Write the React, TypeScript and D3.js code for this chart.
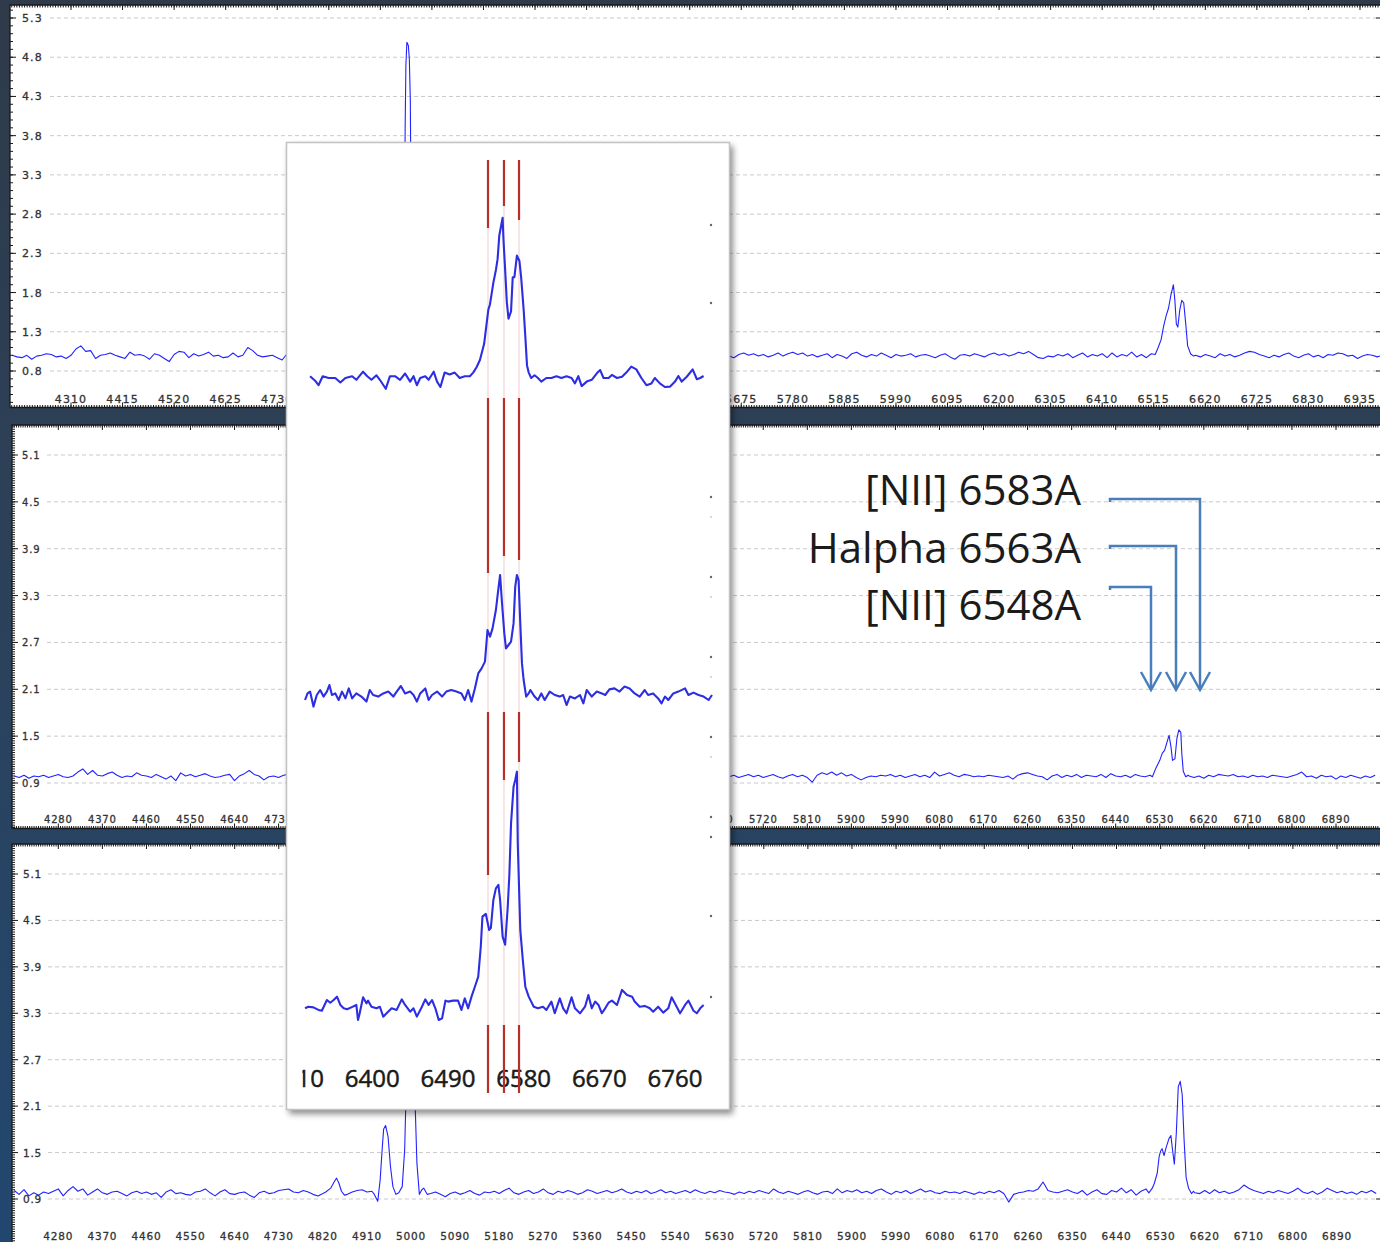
import React from "react";
import * as d3 from "d3";

type Pt = [number, number];

const W = 1380;
const H = 1242;
const STEP = 10; // continuum sampling, Angstrom

// ================= Panel 1 (top) =================
const p1XTicks = [4310, 4415, 4520, 4625, 4730, 4835, 4940, 5045, 5150, 5255, 5360, 5465, 5570, 5675, 5780, 5885, 5990, 6095, 6200, 6305, 6410, 6515, 6620, 6725, 6830, 6935];
const p1YTicks = [0.8, 1.3, 1.8, 2.3, 2.8, 3.3, 3.8, 4.3, 4.8, 5.3];
const p1LeftStart = 4190;
const p1Left = [100,98,97,100,95,99,100,102,101,98,99,96,100,108,112,105,106,96,100,101,103,100,98,96,104,100,101,99,95,102,100,96,92,101,105,104,97,102,99,101,104,99,100,97,98,103,98,100,110,106,100,98,99,100,97,94,102];
const p1RightStart = 5650;
const p1Right = [
  99,97,101,103,100,102,99,101,98,100,
  103,99,102,104,101,103,99,101,98,100,
  102,97,101,99,96,102,104,100,98,101,
  99,103,100,97,101,99,100,102,98,100,
  101,99,97,100,102,98,95,100,101,99,
  102,100,98,101,103,100,102,99,101,104,
  102,105,101,97,96,99,98,101,99,102,
  97,100,103,98,101,99,102,97,103,98,
  101,99,104,98,101,97,102,101,100,100,
  100,100,100,100,100,100,98,101,99,97,
  102,99,101,98,100,103,105,104,101,99,
  97,100,98,101,103,99,97,100,102,98,
  100,97,101,100,103,102,99,100,96,99,
  101,100,98,100];
const p1OIII: Pt[] = [[4986,1.0],[4989,2.5],[4990.5,3.9],[4992,4.7],[4994,4.99],[4997,4.95],[4999,4.78],[5001,4.25],[5003,2.5],[5006,1.02]];
const p1Halpha: Pt[] = [[6518,1.01],[6524,1.10],[6530,1.2],[6535,1.37],[6540,1.5],[6545,1.6],[6550,1.77],[6555,1.9],[6558,1.7],[6561,1.40],[6564,1.36],[6568,1.58],[6572,1.70],[6576,1.67],[6580,1.41],[6584,1.12],[6590,1.02],[6596,0.99]];

// ================= Panels 2 & 3 axes =================
const p23XTicks = [4280,4370,4460,4550,4640,4730,4820,4910,5000,5090,5180,5270,5360,5450,5540,5630,5720,5810,5900,5990,6080,6170,6260,6350,6440,6530,6620,6710,6800,6890];
const p23YTicks = [0.9, 1.5, 2.1, 2.7, 3.3, 3.9, 4.5, 5.1];

// ================= Panel 2 =================
const p2LeftStart = 4190;
const p2Left = [
  99,97,100,96,99,98,100,97,99,101,
  98,97,99,104,108,101,106,100,99,102,
  104,100,97,99,98,103,100,99,97,101,
  98,95,99,93,103,99,101,98,100,102,
  99,97,98,100,101,93,99,102,106,101,
  99,94,98,99,97,100,101];
const p2RightStart = 5650;
const p2Right = [
  98,100,97,99,101,98,100,97,99,101,
  98,96,99,101,98,100,97,91,100,103,
  101,104,100,103,99,101,97,94,97,99,
  98,100,99,101,98,100,97,99,101,98,
  100,97,104,99,101,103,100,98,101,100,
  98,99,98,100,99,98,97,99,95,100,
  102,103,101,99,98,94,99,101,97,100,
  98,101,97,100,99,98,101,97,102,99,
  98,100,97,101,99,98,100,100,100,100,
  100,100,100,100,99,97,99,96,100,98,
  101,100,99,101,98,99,97,100,98,99,
  97,100,99,98,97,99,101,104,98,99,
  96,100,98,99,95,99,97,100,98,96,
  99,97,100];
const p2Halpha: Pt[] = [[6515,0.98],[6522,1.09],[6530,1.19],[6535,1.28],[6540,1.32],[6546,1.45],[6549,1.51],[6553,1.36],[6556,1.19],[6561,1.21],[6565,1.47],[6569,1.58],[6573,1.55],[6575,1.28],[6578,1.05],[6583,0.98],[6588,1.0]];

// ================= Panel 3 =================
const p3Start = 4190;
const p3Cont = [
  101,96,102,94,98,95,99,97,100,103,
  94,101,106,100,103,95,99,103,98,96,
  99,100,97,94,98,100,97,99,96,98,
  92,99,102,97,98,96,95,99,100,103,
  98,94,99,102,97,96,98,99,95,92,
  98,100,97,98,101,102,103,99,98,101,
  99,96,94,97,101,104,108,100,96,99,
  101,102,99,100,98,90,100,100,100,100,
  100,100,100,100,100,97,99,96,93,97,
  99,96,98,101,97,95,99,98,100,97,
  101,104,98,96,99,101,97,99,103,98,
  96,100,98,101,99,96,98,102,100,97,
  99,101,98,100,103,99,97,100,98,101,
  97,99,102,98,100,97,99,101,98,102,
  99,97,100,98,101,99,98,96,99,97,
  100,98,101,99,97,103,99,97,100,98,
  96,99,101,98,96,99,100,97,103,98,
  101,99,102,98,100,97,101,103,99,96,
  100,98,101,97,100,103,99,101,98,97,
  100,98,99,97,100,98,96,99,97,100,
  98,101,97,86,96,98,99,101,100,103,
  112,101,99,98,100,102,99,97,101,95,
  99,102,97,96,101,99,104,98,102,95,
  100,103,100,100,100,100,100,100,100,100,
  100,98,97,101,97,102,98,100,97,99,
  102,108,104,101,99,97,100,98,101,99,
  97,100,104,99,97,100,96,99,104,101,
  98,100,97,99,96,100,98,101,97];
const p3Hbeta: Pt[] = [[4826,0.99],[4836,1.04],[4843,1.12],[4848,1.17],[4853,1.10],[4858,1.0],[4864,0.95]];
const p3OIII: Pt[] = [[4924,0.97],[4932,0.87],[4937,1.15],[4941,1.54],[4944,1.80],[4948,1.85],[4953,1.71],[4958,1.32],[4963,1.06],[4969,0.96],[4975,0.98],[4982,1.06],[4987,1.54],[4990,2.3],[4994,3.6],[4998,4.1],[5003,3.5],[5008,2.2],[5012,1.36],[5017,0.96],[5022,1.02],[5026,1.04],[5033,0.96]];
const p3Halpha: Pt[] = [[6506,0.98],[6513,1.04],[6517,1.10],[6523,1.23],[6527,1.45],[6530,1.52],[6533,1.55],[6537,1.46],[6541,1.56],[6547,1.68],[6551,1.72],[6554,1.55],[6558,1.35],[6562,1.75],[6566,2.35],[6570,2.42],[6574,2.25],[6578,1.65],[6582,1.18],[6587,1.04],[6593,0.97],[6597,1.0]];

// ================= Inset (zoom on H-alpha / [NII]) =================
const insetXTicks = [6310, 6400, 6490, 6580, 6670, 6760];
const insetMarkers = [6537.6, 6556.6, 6574.5];
const insetA: Pt[] = [[6326,1.01],[6332,0.985],[6336,0.96],[6341,1.01],[6348,1.0],[6356,1.0],[6362,0.975],[6368,1.0],[6376,1.01],[6381,0.99],[6389,1.035],[6394,1.01],[6399,0.99],[6405,1.015],[6409,0.99],[6416,0.94],[6421,1.01],[6427,1.01],[6433,0.99],[6439,1.025],[6445,0.98],[6449,1.01],[6453,0.96],[6457,1.0],[6463,1.01],[6467,0.99],[6473,1.035],[6477,0.98],[6481,0.95],[6486,1.03],[6492,1.02],[6498,1.03],[6504,1.0],[6510,1.01],[6516,1.01],[6520,1.03],[6524,1.06],[6528,1.10],[6533,1.19],[6538,1.38],[6540,1.41],[6544,1.53],[6547,1.60],[6549,1.66],[6551,1.79],[6555,1.89],[6556,1.77],[6558,1.60],[6560,1.42],[6562,1.33],[6565,1.37],[6567,1.56],[6569,1.56],[6572,1.68],[6575,1.65],[6577,1.56],[6580,1.38],[6582,1.23],[6584,1.07],[6586,1.03],[6589,1.0],[6593,1.015],[6597,1.0],[6601,0.98],[6607,1.0],[6613,1.0],[6619,1.01],[6625,1.0],[6631,1.01],[6637,1.0],[6641,0.97],[6645,1.01],[6649,0.955],[6655,0.98],[6661,0.99],[6667,1.026],[6671,1.044],[6675,1.0],[6681,1.0],[6685,1.017],[6691,1.0],[6697,1.007],[6703,1.035],[6708,1.063],[6714,1.048],[6720,1.0],[6726,0.96],[6732,0.97],[6736,1.0],[6742,0.97],[6748,0.95],[6754,0.952],[6760,0.98],[6764,1.011],[6768,0.98],[6774,1.007],[6781,1.048],[6786,0.993],[6790,1.0],[6794,1.011]];
const insetB: Pt[] = [[6320,0.985],[6323,1.018],[6326,1.027],[6330,0.952],[6334,1.01],[6338,1.035],[6342,1.002],[6346,1.027],[6349,1.06],[6352,1.01],[6356,1.018],[6360,0.985],[6364,1.027],[6368,0.993],[6372,1.043],[6376,0.993],[6381,1.018],[6387,1.002],[6393,0.977],[6397,1.035],[6401,1.01],[6407,1.002],[6413,1.018],[6419,1.027],[6425,1.002],[6429,1.027],[6434,1.055],[6439,1.018],[6445,1.027],[6449,1.01],[6453,0.977],[6457,1.018],[6463,1.043],[6467,0.985],[6471,1.01],[6477,1.027],[6483,1.002],[6488,1.027],[6494,1.035],[6500,1.027],[6506,1.018],[6510,0.985],[6514,1.035],[6518,0.977],[6522,1.043],[6526,1.118],[6530,1.143],[6534,1.177],[6537,1.335],[6540,1.302],[6543,1.343],[6547,1.435],[6550,1.543],[6552,1.61],[6554,1.485],[6557,1.318],[6559,1.243],[6562,1.26],[6565,1.277],[6568,1.368],[6570,1.552],[6572,1.61],[6574,1.585],[6576,1.368],[6578,1.168],[6580,1.085],[6583,1.002],[6586,1.018],[6588,1.035],[6593,1.002],[6597,0.985],[6601,1.018],[6605,0.985],[6611,1.027],[6617,1.01],[6623,1.002],[6627,1.01],[6631,0.96],[6635,1.002],[6641,0.993],[6647,1.01],[6651,0.968],[6655,1.035],[6661,1.002],[6667,1.027],[6673,1.018],[6677,1.01],[6682,1.038],[6688,1.043],[6694,1.027],[6700,1.052],[6706,1.043],[6712,1.018],[6718,1.002],[6724,1.035],[6728,1.01],[6734,1.018],[6740,0.993],[6744,0.968],[6748,1.002],[6752,0.985],[6758,1.018],[6764,1.027],[6772,1.043],[6776,1.01],[6782,1.022],[6788,1.01],[6794,1.002],[6800,0.985],[6804,1.01]];
const insetC: Pt[] = [[6320,0.998],[6324,1.008],[6330,1.004],[6336,0.988],[6340,0.983],[6346,1.05],[6350,1.033],[6354,1.05],[6358,1.071],[6362,1.019],[6366,0.998],[6370,0.992],[6375,1.004],[6381,1.019],[6383,0.925],[6385,0.967],[6389,1.067],[6393,1.029],[6395,1.046],[6399,1.008],[6405,0.998],[6409,1.008],[6413,0.946],[6417,0.967],[6423,0.998],[6429,0.988],[6435,1.054],[6439,1.019],[6445,0.977],[6449,0.998],[6453,0.946],[6459,1.008],[6463,1.054],[6467,1.019],[6471,1.05],[6475,0.998],[6479,0.925],[6483,0.935],[6487,1.046],[6490,1.04],[6496,1.046],[6502,1.046],[6506,0.988],[6510,1.06],[6514,0.998],[6518,1.071],[6522,1.133],[6526,1.196],[6529,1.383],[6531,1.571],[6535,1.588],[6539,1.488],[6541,1.5],[6544,1.675],[6547,1.748],[6550,1.769],[6552,1.675],[6555,1.446],[6558,1.396],[6561,1.625],[6563,1.833],[6565,2.154],[6568,2.383],[6570,2.425],[6572,2.477],[6573,2.029],[6576,1.488],[6579,1.3],[6582,1.133],[6586,1.071],[6592,1.008],[6597,0.998],[6603,1.008],[6607,0.988],[6613,1.04],[6617,0.967],[6623,1.06],[6627,0.998],[6631,0.967],[6637,1.067],[6641,0.998],[6647,0.967],[6653,1.008],[6657,1.081],[6661,0.998],[6665,1.04],[6669,1.019],[6673,0.967],[6677,0.998],[6681,1.033],[6685,1.046],[6691,1.019],[6697,1.113],[6703,1.081],[6709,1.071],[6712,1.04],[6718,1.008],[6724,1.013],[6730,0.998],[6734,0.977],[6740,1.008],[6746,0.971],[6752,0.998],[6756,1.067],[6762,1.008],[6766,0.967],[6772,1.019],[6776,1.046],[6782,0.983],[6786,0.967],[6790,0.998],[6794,1.019]];

const annotationLabels = ["[NII] 6583A", "Halpha 6563A", "[NII] 6548A"];

// ================= helpers =================
function gridSeries(start: number, vals: number[]): Pt[] {
  return vals.map((v, i) => [start + i * STEP, v / 100] as Pt);
}
function assemble(conts: Pt[][], lines: Pt[][]): Pt[] {
  const cont = conts.flat().filter(([l]) => !lines.some((s) => l >= s[0][0] && l <= s[s.length - 1][0]));
  return [...cont, ...lines.flat()].sort((a, b) => a[0] - b[0]);
}

type PanelCfg = {
  id: string;
  box: [number, number, number, number];
  xDomain: [number, number];
  xRange: [number, number];
  yDomain: [number, number];
  yRange: [number, number];
  xTicks: number[];
  yTicks: number[];
  yMinor: number;
  yMinorLen: number;
  xLabelY: number;
  yLabelX: number;
  fontSize: number;
  letter: number;
  gridX0: number;
  data: Pt[];
};

const panels: PanelCfg[] = [
  {
    id: "p1", box: [10, 5, 1380, 407.5], xDomain: [4310, 6935], xRange: [71, 1360], yDomain: [0.8, 5.3], yRange: [371, 18],
    xTicks: p1XTicks, yTicks: p1YTicks, yMinor: 0.1, yMinorLen: 3, xLabelY: 403, yLabelX: 22, fontSize: 11, letter: 1.1, gridX0: 50,
    data: assemble([gridSeries(p1LeftStart, p1Left), gridSeries(p1RightStart, p1Right)], [p1OIII, p1Halpha]),
  },
  {
    id: "p2", box: [12, 425, 1380, 828.5], xDomain: [4280, 6890], xRange: [58.3, 1336], yDomain: [0.9, 5.1], yRange: [783, 455],
    xTicks: p23XTicks, yTicks: p23YTicks, yMinor: 0.03, yMinorLen: 3, xLabelY: 823, yLabelX: 22, fontSize: 10, letter: 0.8, gridX0: 47,
    data: assemble([gridSeries(p2LeftStart, p2Left), gridSeries(p2RightStart, p2Right)], [p2Halpha]),
  },
  {
    id: "p3", box: [12, 844, 1380, 1262], xDomain: [4280, 6890], xRange: [58.3, 1337], yDomain: [0.9, 5.1], yRange: [1199, 874],
    xTicks: p23XTicks, yTicks: p23YTicks, yMinor: 0.03, yMinorLen: 3, xLabelY: 1240, yLabelX: 23, fontSize: 10.5, letter: 0.8, gridX0: 48,
    data: assemble([gridSeries(p3Start, p3Cont)], [p3Hbeta, p3OIII, p3Halpha]),
  },
];

const tickFont = "DejaVu Sans, Verdana, sans-serif";

function Panel({ p }: { p: PanelCfg }) {
  const [bx0, by0, bx1, by1] = p.box;
  const x = d3.scaleLinear().domain(p.xDomain).range(p.xRange);
  const y = d3.scaleLinear().domain(p.yDomain).range(p.yRange);
  const line = d3.line<Pt>().x((d) => x(d[0])).y((d) => y(d[1]));

  const xStep = (p.xTicks[1] - p.xTicks[0]) / 20;
  const lo = x.invert(bx0), hi = x.invert(bx1);
  const xMinor = d3.range(Math.ceil((lo - p.xTicks[0]) / xStep), Math.floor((hi - p.xTicks[0]) / xStep) + 1).map((k) => p.xTicks[0] + k * xStep);
  const ylo = y.invert(by1), yhi = y.invert(by0);
  const y0t = p.yTicks[0];
  const yMinor = d3.range(Math.ceil((ylo - y0t) / p.yMinor), Math.floor((yhi - y0t) / p.yMinor) + 1).map((k) => y0t + k * p.yMinor);

  const leftMinor = yMinor.map((v) => `M${bx0},${y(v).toFixed(2)}h${p.yMinorLen}`).join("");
  const leftMajor = p.yTicks.map((v) => `M${bx0},${y(v).toFixed(2)}h6`).join("");
  const rightMajor = p.yTicks.map((v) => `M${bx1 - 4},${y(v).toFixed(2)}h4`).join("");
  const topMinor = xMinor.map((v) => `M${x(v).toFixed(2)},${by0}v2.5`).join("");
  const botMinor = xMinor.map((v) => `M${x(v).toFixed(2)},${by1}v-2.5`).join("");
  const topMajor = p.xTicks.map((v) => `M${x(v).toFixed(2)},${by0}v5`).join("");
  const botMajor = p.xTicks.map((v) => `M${x(v).toFixed(2)},${by1}v-5`).join("");

  return (
    <g>
      <rect x={bx0} y={by0} width={bx1 - bx0} height={by1 - by0} fill="#ffffff" />
      {p.yTicks.map((t) => (
        <line key={t} x1={p.gridX0} x2={bx1} y1={y(t)} y2={y(t)} stroke="#c9c9c9" strokeWidth={1} strokeDasharray="4,3" />
      ))}
      <g clipPath={`url(#clip-${p.id})`}>
        <path d={line(p.data) || ""} fill="none" stroke="#2222ff" strokeWidth={1.1} strokeLinejoin="round" />
      </g>
      <path d={`M${bx0},${by1}V${by0}H${bx1}M${bx0},${by1}H${bx1}`} fill="none" stroke="#1a1a1a" strokeWidth={1.3} />
      <path d={leftMinor + leftMajor + rightMajor + topMinor + botMinor + topMajor + botMajor} fill="none" stroke="#1a1a1a" strokeWidth={1} />
      <g fontFamily={tickFont} fontSize={p.fontSize} letterSpacing={p.letter} fill="#333" stroke="#333" strokeWidth={0.3}>
        {p.yTicks.map((t) => (
          <text key={t} x={p.yLabelX} y={y(t) + 4}>
            {t.toFixed(1)}
          </text>
        ))}
        {p.xTicks.map((t) => (
          <text key={t} x={x(t)} y={p.xLabelY} textAnchor="middle">
            {t}
          </text>
        ))}
      </g>
    </g>
  );
}

// inset layout
const INSET = { x0: 286, y0: 142, x1: 730, y1: 1110, clipX0: 302.5 };
const insetRows = [
  { data: insetA, base: 378, unit: 180 },
  { data: insetB, base: 697, unit: 200 },
  { data: insetC, base: 1008, unit: 160 },
];
const markerSpans = [
  [[160, 228], [398, 573], [712, 875], [1025, 1093]],
  [[160, 206], [398, 556], [712, 780], [1025, 1093]],
  [[160, 220], [398, 560], [712, 762], [1025, 1093]],
];
const insetDots = [225, 303, 497, 577, 657, 737, 817, 837, 916, 997];
const insetFaintDots = [517, 597, 677, 757];

function Inset() {
  const x = d3.scaleLinear().domain([6400, 6760]).range([372.3, 675]);
  return (
    <g>
      <rect x={INSET.x0} y={INSET.y0} width={INSET.x1 - INSET.x0} height={INSET.y1 - INSET.y0} fill="#ffffff" filter="url(#insetShadow)" />
      <rect x={INSET.x0 + 0.5} y={INSET.y0 + 0.5} width={INSET.x1 - INSET.x0 - 1} height={INSET.y1 - INSET.y0 - 1} fill="none" stroke="#c2c2c2" strokeWidth={1.5} />
      <g clipPath="url(#clip-inset)">
        {insetMarkers.map((m) => (
          <line key={"p" + m} x1={x(m)} x2={x(m)} y1={160} y2={1093} stroke="#f3c9c9" strokeWidth={1} />
        ))}
        {insetRows.map((r, i) => {
          const y = d3.scaleLinear().domain([1, 2]).range([r.base, r.base - r.unit]);
          const line = d3.line<Pt>().x((d) => x(d[0])).y((d) => y(d[1]));
          return <path key={i} d={line(r.data) || ""} fill="none" stroke="#2d2de2" strokeWidth={2.1} strokeLinejoin="round" />;
        })}
        {insetXTicks.map((t) => (
          <text key={t} x={x(t)} y={1087} textAnchor="middle" fontFamily="Open Sans, Liberation Sans, sans-serif" fontSize={24} fill="#1a1a1a" stroke="#1a1a1a" strokeWidth={0.5}>
            {t}
          </text>
        ))}
        {insetMarkers.map((m, i) =>
          markerSpans[i].map(([a, b], j) => (
            <line key={`r${i}-${j}`} x1={x(m)} x2={x(m)} y1={a} y2={b} stroke="#b5302b" strokeWidth={2.2} />
          ))
        )}
      </g>
      {insetDots.map((d) => (
        <circle key={"d" + d} cx={711} cy={d} r={1.2} fill="#666" />
      ))}
      {insetFaintDots.map((d) => (
        <circle key={"f" + d} cx={711} cy={d} r={1.1} fill="#d0d0d0" />
      ))}
    </g>
  );
}

const annotLayout = [
  { textY: 505, lineY: 499, xv: 1200 },
  { textY: 563, lineY: 546, xv: 1176 },
  { textY: 620, lineY: 587, xv: 1151 },
];

function Annotations() {
  const tipY = 690;
  return (
    <g>
      {annotationLabels.map((lab, i) => {
        const a = annotLayout[i];
        return (
          <g key={lab}>
            <text x={1081} y={a.textY} textAnchor="end" fontFamily="Open Sans, Liberation Sans, sans-serif" fontSize={42} fill="#1b1b1b">
              {lab}
            </text>
            <path d={`M1110,${a.lineY + 3}V${a.lineY}H${a.xv}V${tipY - 1}`} fill="none" stroke="#4a7ebb" strokeWidth={2.5} />
            <path d={`M${a.xv - 10},${tipY - 18}L${a.xv},${tipY}L${a.xv + 10},${tipY - 18}`} fill="none" stroke="#4a7ebb" strokeWidth={2.5} />
          </g>
        );
      })}
    </g>
  );
}

export default function App() {
  return (
    <svg width={W} height={H} viewBox={`0 0 ${W} ${H}`} style={{ position: "absolute", left: 0, top: 0, display: "block" }}>
      <defs>
        <linearGradient id="bg" x1="0" y1="0" x2="0" y2="1">
          <stop offset="0" stopColor="#2f3a4a" />
          <stop offset="0.45" stopColor="#2c4159" />
          <stop offset="1" stopColor="#22476f" />
        </linearGradient>
        <filter id="insetShadow" x="-5%" y="-3%" width="112%" height="107%">
          <feDropShadow dx="3" dy="4" stdDeviation="3" floodColor="#000" floodOpacity="0.45" />
        </filter>
        {panels.map((p) => (
          <clipPath key={p.id} id={`clip-${p.id}`}>
            <rect x={p.box[0]} y={p.box[1]} width={p.box[2] - p.box[0]} height={p.box[3] - p.box[1]} />
          </clipPath>
        ))}
        <clipPath id="clip-inset">
          <rect x={INSET.clipX0} y={INSET.y0 + 2} width={INSET.x1 - INSET.clipX0 - 2} height={INSET.y1 - INSET.y0 - 4} />
        </clipPath>
      </defs>
      <rect width={W} height={H} fill="url(#bg)" />
      {panels.map((p) => (
        <Panel key={p.id} p={p} />
      ))}
      <Inset />
      <Annotations />
    </svg>
  );
}
